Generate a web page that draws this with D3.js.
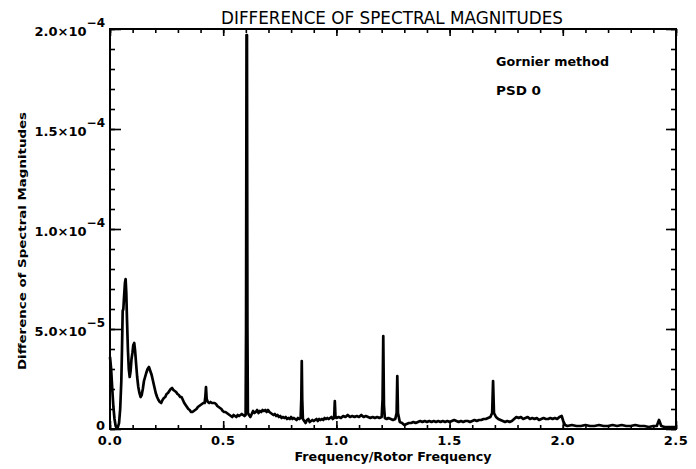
<!DOCTYPE html>
<html><head><meta charset="utf-8">
<script src="https://cdn.jsdelivr.net/npm/d3@7"></script>
<style>
html,body{margin:0;padding:0;background:#fff;}
svg{display:block;}
text{font-family:"DejaVu Sans",sans-serif;fill:#000;}
</style></head>
<body>
<svg id="c" width="696" height="469"></svg>
<script>
// ---- data ----
const title = "DIFFERENCE OF SPECTRAL MAGNITUDES";
const xLabel = "Frequency/Rotor Frequency";
const yLabel = "Difference of Spectral Magnitudes";
const notes = ["Gornier method", "PSD 0"];
const xMajorTicks = [0, 0.5, 1.0, 1.5, 2.0, 2.5];
const xTickLabels = ["0.0", "0.5", "1.0", "1.5", "2.0", "2.5"];
const yMajorTicks = [0, 5e-5, 1e-4, 1.5e-4, 2e-4];
const yTickMantissa = ["0", "5.0", "1.0", "1.5", "2.0"];
const yTickExponent = ["", "\u22125", "\u22124", "\u22124", "\u22124"];
// frequency / rotor frequency
const freq = [0.000,0.005,0.010,0.015,0.020,0.025,0.030,0.035,0.040,0.045,0.050,0.053,0.056,0.059,0.062,0.066,0.069,0.072,0.075,0.079,
0.083,0.087,0.091,0.095,0.099,0.103,0.107,0.111,0.115,0.120,0.125,0.130,0.135,0.140,0.145,0.150,0.155,0.160,0.166,0.172,
0.178,0.184,0.190,0.196,0.202,0.208,0.214,0.220,0.226,0.232,0.238,0.244,0.250,0.256,0.262,0.268,0.274,0.280,0.286,0.292,
0.298,0.304,0.310,0.316,0.322,0.328,0.334,0.340,0.346,0.352,0.358,0.364,0.370,0.376,0.382,0.388,0.394,0.400,0.406,0.412,
0.418,0.421,0.424,0.427,0.432,0.438,0.444,0.450,0.456,0.462,0.468,0.474,0.480,0.486,0.492,0.498,0.504,0.510,0.516,0.522,
0.528,0.534,0.540,0.546,0.552,0.558,0.564,0.570,0.576,0.582,0.588,0.594,0.599,0.601,0.603,0.605,0.607,0.609,0.614,0.620,
0.626,0.632,0.638,0.644,0.650,0.656,0.662,0.668,0.674,0.680,0.686,0.692,0.698,0.704,0.710,0.716,0.722,0.728,0.734,0.740,
0.746,0.752,0.758,0.764,0.770,0.776,0.782,0.788,0.794,0.800,0.806,0.812,0.818,0.824,0.830,0.836,0.842,0.845,0.847,0.849,
0.852,0.858,0.864,0.870,0.876,0.882,0.888,0.894,0.900,0.906,0.912,0.918,0.924,0.930,0.936,0.942,0.948,0.954,0.960,0.966,
0.972,0.978,0.984,0.990,0.993,0.996,1.000,1.010,1.020,1.030,1.040,1.050,1.060,1.070,1.080,1.090,1.100,1.110,1.120,1.130,
1.140,1.150,1.160,1.170,1.180,1.190,1.200,1.204,1.207,1.210,1.214,1.222,1.230,1.240,1.250,1.260,1.266,1.269,1.272,1.280,
1.290,1.300,1.310,1.320,1.330,1.340,1.350,1.360,1.370,1.380,1.390,1.400,1.410,1.420,1.430,1.440,1.450,1.460,1.470,1.480,
1.490,1.500,1.510,1.520,1.530,1.540,1.550,1.560,1.570,1.580,1.590,1.600,1.610,1.620,1.630,1.640,1.650,1.660,1.670,1.680,
1.688,1.692,1.696,1.705,1.715,1.725,1.735,1.745,1.755,1.765,1.775,1.785,1.795,1.805,1.815,1.825,1.835,1.845,1.855,1.865,
1.875,1.885,1.895,1.905,1.915,1.925,1.935,1.945,1.955,1.965,1.975,1.985,1.995,2.002,2.010,2.020,2.040,2.060,2.080,2.100,
2.120,2.140,2.160,2.180,2.200,2.220,2.240,2.260,2.280,2.300,2.320,2.340,2.360,2.380,2.400,2.415,2.425,2.435,2.450,2.470,
2.500];
// difference of spectral magnitudes, in units of 1e-5
const diff = [3.6,3.0,2.0,1.1,0.5,0.15,0.05,0.1,0.3,1.0,2.4,4.0,5.9,6.0,6.6,7.3,7.5,6.8,5.5,4.0,
3.0,2.6,2.9,3.5,3.8,4.2,4.3,3.9,3.3,2.6,2.1,1.8,1.6,1.7,2.0,2.4,2.6,2.8,3.0,3.1,
2.9,2.7,2.4,2.1,1.8,1.6,1.45,1.35,1.3,1.45,1.55,1.6,1.75,1.8,1.9,2.0,2.05,1.95,1.9,1.85,
1.75,1.7,1.6,1.6,1.45,1.3,1.2,1.1,1.0,0.95,0.85,0.85,0.9,0.95,1.0,1.1,1.15,1.2,1.25,1.3,
1.3,1.6,2.1,1.5,1.35,1.3,1.35,1.3,1.3,1.3,1.25,1.15,1.1,1.05,1.0,0.9,0.85,0.85,0.8,0.75,
0.7,0.65,0.6,0.7,0.65,0.6,0.7,0.65,0.7,0.75,0.7,0.65,0.7,5.0,19.7,19.7,5.0,0.8,0.7,0.6,
0.75,0.9,0.8,0.85,0.95,0.8,0.9,0.85,0.95,0.9,0.95,0.85,0.95,0.85,0.8,0.75,0.7,0.75,0.65,0.7,
0.6,0.65,0.55,0.6,0.55,0.6,0.5,0.55,0.5,0.6,0.5,0.55,0.5,0.45,0.55,0.5,0.55,1.5,3.4,1.5,
0.5,0.4,0.3,0.45,0.5,0.35,0.4,0.45,0.4,0.45,0.5,0.4,0.5,0.45,0.5,0.45,0.55,0.5,0.55,0.5,
0.55,0.6,0.5,0.55,1.4,0.6,0.55,0.6,0.55,0.65,0.6,0.7,0.6,0.65,0.6,0.65,0.6,0.7,0.6,0.65,
0.6,0.55,0.6,0.55,0.6,0.55,0.6,1.5,4.65,1.2,0.55,0.5,0.55,0.5,0.45,0.5,0.8,2.65,0.8,0.35,
0.3,0.2,0.25,0.3,0.3,0.35,0.3,0.35,0.4,0.35,0.4,0.35,0.4,0.35,0.4,0.35,0.4,0.35,0.4,0.35,
0.4,0.35,0.4,0.45,0.4,0.35,0.4,0.35,0.4,0.4,0.35,0.4,0.45,0.4,0.45,0.45,0.5,0.5,0.55,0.6,
0.8,2.4,0.8,0.6,0.5,0.45,0.4,0.35,0.4,0.35,0.4,0.5,0.6,0.55,0.6,0.5,0.55,0.6,0.5,0.55,
0.5,0.55,0.45,0.5,0.55,0.5,0.5,0.55,0.5,0.55,0.5,0.6,0.65,0.4,0.2,0.15,0.2,0.15,0.15,0.2,
0.15,0.15,0.2,0.15,0.15,0.2,0.15,0.2,0.15,0.15,0.2,0.15,0.15,0.1,0.15,0.15,0.45,0.15,0.1,0.1,
0.1];

// ---- drawing ----
const L = 110, R = 676, T = 29, B = 429;
const svg = d3.select("#c");
const x = d3.scaleLinear().domain([0, 2.5]).range([L, R]);
const y = d3.scaleLinear().domain([0, 2e-4]).range([B, T]);
const xMinor = d3.range(0, 2.5001, 0.1);
const yMinor = d3.range(0, 2.00001e-4, 1e-5);

function axisG(axis) {
  const g = svg.append("g").call(axis);
  g.select(".domain").remove();
  g.selectAll(".tick line").attr("stroke", "#000").attr("stroke-width", 1.6);
  g.selectAll(".tick text").remove();
  return g;
}
// bottom
axisG(d3.axisBottom(x).tickValues(xMinor).tickSize(-4).tickFormat("")).attr("transform", `translate(0,${B})`);
axisG(d3.axisBottom(x).tickValues(xMajorTicks).tickSize(-8).tickFormat("")).attr("transform", `translate(0,${B})`);
// top
axisG(d3.axisTop(x).tickValues(xMinor).tickSize(-4).tickFormat("")).attr("transform", `translate(0,${T})`);
axisG(d3.axisTop(x).tickValues(xMajorTicks).tickSize(-7).tickFormat("")).attr("transform", `translate(0,${T})`);
// left
axisG(d3.axisLeft(y).tickValues(yMinor).tickSize(-5).tickFormat("")).attr("transform", `translate(${L},0)`);
axisG(d3.axisLeft(y).tickValues(yMajorTicks).tickSize(-11).tickFormat("")).attr("transform", `translate(${L},0)`);
// right
axisG(d3.axisRight(y).tickValues(yMinor).tickSize(-5).tickFormat("")).attr("transform", `translate(${R},0)`);
axisG(d3.axisRight(y).tickValues(yMajorTicks).tickSize(-10).tickFormat("")).attr("transform", `translate(${R},0)`);

// frame
svg.append("rect").attr("x", L).attr("y", T).attr("width", R - L).attr("height", B - T)
  .attr("fill", "none").attr("stroke", "#000").attr("stroke-width", 2);

// x tick labels
svg.append("g").selectAll("text").data(xMajorTicks).join("text")
  .attr("x", d => x(d)).attr("y", B + 16)
  .attr("text-anchor", "middle").attr("font-size", 13).attr("font-weight", "bold")
  .attr("letter-spacing", 0.5)
  .text((d, i) => xTickLabels[i]);

// y tick labels
const yl = svg.append("g").selectAll("text").data(yMajorTicks).join("text")
  .attr("x", 105).attr("y", d => d === 0 ? y(d) + 1 : y(d) + 7)
  .attr("text-anchor", "end").attr("font-size", 13).attr("font-weight", "bold");
yl.each(function (d, i) {
  const t = d3.select(this);
  t.append("tspan").text(yTickMantissa[i] + (yTickExponent[i] ? "\u00d710" : ""));
  if (yTickExponent[i]) {
    t.append("tspan").attr("dy", -9).attr("font-size", 12).text(yTickExponent[i]);
  }
});

// curve
const line = d3.line().x((d, i) => x(freq[i])).y((d, i) => y(diff[i] * 1e-5));
svg.append("path").datum(diff).attr("d", line)
  .attr("fill", "none").attr("stroke", "#000").attr("stroke-width", 2.7)
  .attr("stroke-linejoin", "round");

// title
svg.append("text").attr("x", 392).attr("y", 24).attr("text-anchor", "middle")
  .attr("font-size", 17).attr("textLength", 342).attr("lengthAdjust", "spacingAndGlyphs")
  .text(title);
// x label
svg.append("text").attr("x", 393).attr("y", 461).attr("text-anchor", "middle")
  .attr("font-size", 13).attr("font-weight", "bold")
  .attr("textLength", 197).attr("lengthAdjust", "spacingAndGlyphs").text(xLabel);
// y label
svg.append("text").attr("transform", "translate(26,241) rotate(-90)").attr("text-anchor", "middle")
  .attr("font-size", 11).attr("font-weight", "bold")
  .attr("textLength", 258).attr("lengthAdjust", "spacingAndGlyphs").text(yLabel);
// notes
svg.append("text").attr("x", 496).attr("y", 66).attr("font-size", 12).attr("font-weight", "bold")
  .attr("textLength", 113).attr("lengthAdjust", "spacingAndGlyphs").text(notes[0]);
svg.append("text").attr("x", 496).attr("y", 95).attr("font-size", 12).attr("font-weight", "bold")
  .attr("textLength", 45).attr("lengthAdjust", "spacingAndGlyphs").text(notes[1]);
</script>
</body></html>
